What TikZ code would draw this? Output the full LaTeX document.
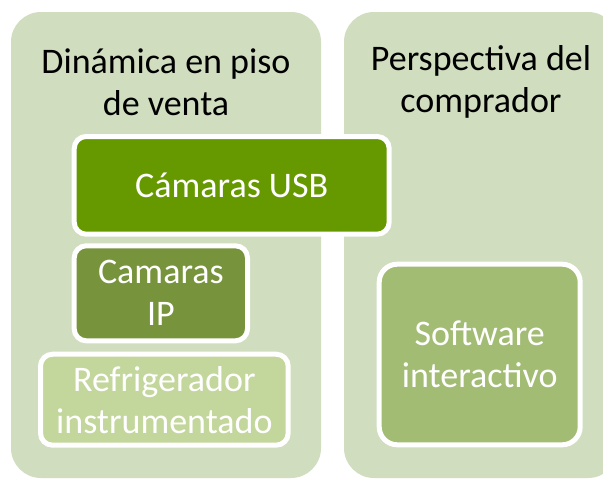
\documentclass[tikz,border=0pt]{standalone}
\usepackage{fontspec}
\setmainfont{Carlito}
\definecolor{panelfill}{HTML}{D0DDBF}
\definecolor{usbfill}{HTML}{669900}
\definecolor{ipfill}{HTML}{77933C}
\definecolor{reffill}{HTML}{C3D69B}
\definecolor{swfill}{HTML}{A2BC74}
\tikzset{
  panel/.style={rectangle, rounded corners=30pt, fill=panelfill, draw=none, inner sep=0pt},
  titletext/.style={align=center, text=black, font=\fontsize{36}{42}\selectfont, inner sep=0pt},
  itembox/.style={rectangle, rounded corners=12pt, draw=white, line width=5pt, text=white,
    align=center, font=\fontsize{36}{42}\selectfont, inner sep=0pt},
}
\begin{document}
\begin{tikzpicture}[x=1pt,y=-1pt]
\useasboundingbox (0,0) rectangle (603,479);
\clip (0,0) rectangle (603,479);
\fill[white] (0,0) rectangle (603,479);
\node[panel, minimum width=310pt, minimum height=466pt] (leftpanel) at (166,245) {};
\node[panel, minimum width=274pt, minimum height=466pt] (rightpanel) at (481,245) {};
\node[titletext] (lefttitle) at (166,82) {Dinámica en piso\\de venta};
\node[titletext] (righttitle) at (481,82) {Perspectiva del\\comprador};
\node[itembox, fill=usbfill, minimum width=315pt, minimum height=97.7pt] (usb) at (231.7,185.35) {Cámaras USB};
\node[itembox, fill=ipfill, minimum width=173.3pt, minimum height=95pt] (ip) at (160.85,293.3) {Camaras\\IP};
\node[itembox, fill=reffill, minimum width=247.7pt, minimum height=91pt] (ref) at (164.35,399.7) {Refrigerador\\instrumentado};
\node[itembox, fill=swfill, rounded corners=18pt, minimum width=201pt, minimum height=180.6pt] (sw) at (479.7,354.5) {Software\\interactivo};
\end{tikzpicture}
\end{document}
